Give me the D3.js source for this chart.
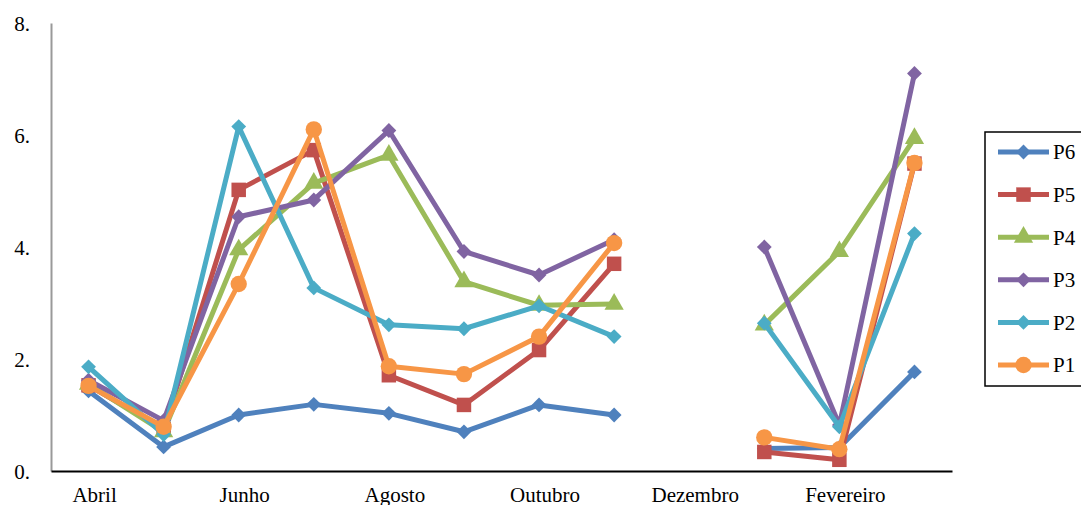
<!DOCTYPE html>
<html>
<head>
<meta charset="utf-8">
<script src="https://cdn.jsdelivr.net/npm/d3@7"></script>
<style>
  html, body { margin: 0; padding: 0; background: #fff; }
  svg { display: block; }
  text { font-family: "Liberation Serif", "Times New Roman", serif; fill: #000; }
</style>
</head>
<body>
<svg id="chart" width="1081" height="505"></svg>
<script>
const months = ["Abril","Maio","Junho","Julho","Agosto","Setembro","Outubro","Novembro","Dezembro","Janeiro","Fevereiro","Março"];
const xTickLabels = ["Abril","Junho","Agosto","Outubro","Dezembro","Fevereiro"];
const yTicks = [0, 2, 4, 6, 8];

const P6 = [1.43, 0.43, 1.00, 1.19, 1.03, 0.70, 1.18, 1.00, null, 0.40, 0.42, 1.77];
const P5 = [1.53, 0.75, 5.02, 5.73, 1.71, 1.18, 2.16, 3.70, null, 0.34, 0.20, 5.49];
const P4 = [1.55, 0.70, 3.95, 5.14, 5.64, 3.38, 2.96, 2.98, null, 2.61, 3.92, 5.94];
const P3 = [1.62, 0.90, 4.54, 4.84, 6.08, 3.92, 3.50, 4.13, null, 4.00, 0.82, 7.10];
const P2 = [1.86, 0.65, 6.15, 3.27, 2.61, 2.54, 2.95, 2.40, null, 2.64, 0.79, 4.24];
const P1 = [1.52, 0.79, 3.34, 6.10, 1.87, 1.73, 2.40, 4.07, null, 0.60, 0.39, 5.50];

const seriesNames = ["P6","P5","P4","P3","P2","P1"];
const seriesData = [P6, P5, P4, P3, P2, P1];
const seriesColors = ["#4F81BD","#C0504D","#9BBB59","#8064A2","#4BACC6","#F79646"];
const seriesShapes = ["diamond","square","triangle","diamond","diamond","circle"];

(function () {
const svg = d3.select("#chart");
const mLeft = 51, mRight = 952, mTop = 23, mBottom = 471;

const x = d3.scaleBand().domain(months).range([mLeft, mRight]).padding(0);
const y = d3.scaleLinear().domain([0, 8]).range([mBottom, mTop]);
const cx = m => x(m) + x.bandwidth() / 2;

// Y axis (gray line, labels only)
const yAxis = d3.axisLeft(y).tickValues(yTicks).tickSize(0).tickPadding(21).tickFormat(d => d + ".");
const gy = svg.append("g").attr("transform", `translate(${mLeft},0)`).call(yAxis);
gy.select(".domain").attr("stroke", "#999").attr("stroke-width", 2);
gy.selectAll("text").attr("font-size", 21).attr("font-family", "Liberation Serif").attr("dy", "0.35em");

// X axis
const xAxis = d3.axisBottom(x).tickValues(xTickLabels).tickSize(0).tickPadding(0);
const gx = svg.append("g").attr("transform", `translate(0,${mBottom})`).call(xAxis);
gx.select(".domain").attr("stroke", "#000").attr("stroke-width", 2);
gx.selectAll("text").attr("font-size", 21).attr("font-family", "Liberation Serif")
  .attr("dy", null).attr("y", 31).attr("dx", 6);

function symbolPath(shape) {
  if (shape === "diamond") return d3.symbol(d3.symbolSquare, 110)();
  if (shape === "square") return d3.symbol(d3.symbolSquare, 210)();
  if (shape === "triangle") return d3.symbol(d3.symbolTriangle, 160)();
  return d3.symbol(d3.symbolCircle, 210)();
}

const line = d3.line().defined(d => d.v !== null).x(d => cx(d.m)).y(d => y(d.v));

seriesData.forEach((arr, i) => {
  const pts = arr.map((v, j) => ({ m: months[j], v }));
  const g = svg.append("g");
  g.append("path").datum(pts).attr("d", line).attr("fill", "none")
    .attr("stroke", seriesColors[i]).attr("stroke-width", 5).attr("stroke-linejoin", "round");
  g.selectAll("path.mk").data(pts.filter(d => d.v !== null)).join("path").attr("class", "mk")
    .attr("d", symbolPath(seriesShapes[i]))
    .attr("transform", d => `translate(${cx(d.m)},${y(d.v)})` + (seriesShapes[i] === "diamond" ? " rotate(45)" : ""))
    .attr("fill", seriesColors[i]);
});

// Legend
const lg = svg.append("g");
lg.append("rect").attr("x", 985).attr("y", 132).attr("width", 110).attr("height", 254)
  .attr("fill", "#fff").attr("stroke", "#000").attr("stroke-width", 1.5);
seriesNames.forEach((n, i) => {
  const yy = 152 + i * 42.6;
  lg.append("line").attr("x1", 998).attr("x2", 1049).attr("y1", yy).attr("y2", yy)
    .attr("stroke", seriesColors[i]).attr("stroke-width", 5);
  lg.append("path").attr("d", symbolPath(seriesShapes[i]))
    .attr("transform", `translate(1023.5,${yy})` + (seriesShapes[i] === "diamond" ? " rotate(45)" : ""))
    .attr("fill", seriesColors[i]);
  lg.append("text").attr("x", 1053).attr("y", yy).attr("dy", "0.35em").attr("font-size", 21).text(n);
});
})();
</script>
</body>
</html>
